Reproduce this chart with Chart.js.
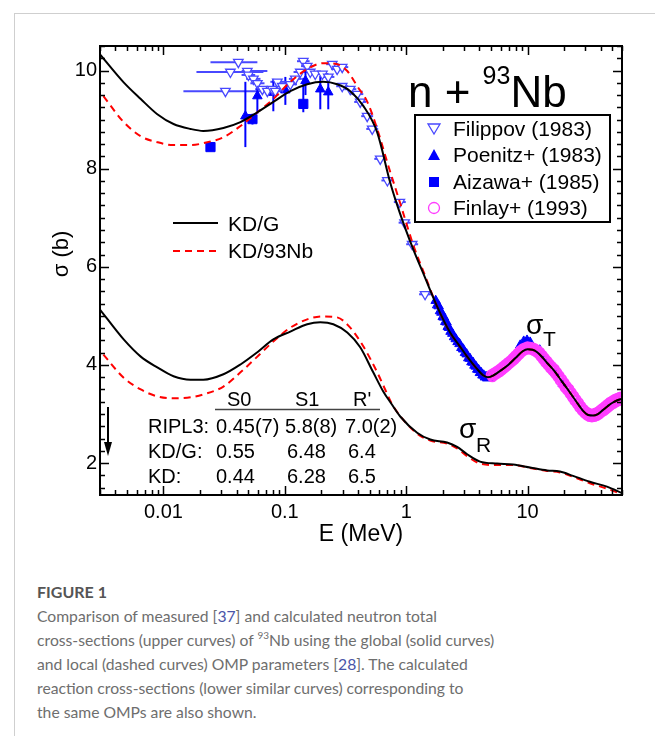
<!DOCTYPE html>
<html>
<head>
<meta charset="utf-8">
<script src="https://cdn.jsdelivr.net/npm/chart.js@4.4.1/dist/chart.umd.min.js"></script>
<style>
html,body{margin:0;padding:0;background:#fff;}
body{width:655px;height:736px;position:relative;overflow:hidden;}
#frame{position:absolute;left:14px;top:13px;width:700px;height:800px;border-left:1px solid #cfcfcf;border-top:1px solid #cfcfcf;}
#wrap{position:absolute;left:0;top:0;width:655px;height:560px;}
#cap{position:absolute;left:37px;top:580px;font-family:"Lato","Open Sans",sans-serif;font-size:15.7px;line-height:24px;color:#6e6e6e;white-space:nowrap;}
#cap .fig{font-weight:700;color:#555;font-size:16px;}
#cap .ref{color:#4a55a8;}
#cap sup{font-size:10px;line-height:0;position:relative;top:-1px;}
</style>
</head>
<body>
<div id="frame"></div>
<div id="wrap"><canvas id="c" width="655" height="560"></canvas></div>
<div id="cap">
<div class="fig">FIGURE 1</div>
<div id="l1">Comparison of measured [<span class="ref">37</span>] and calculated neutron total</div>
<div id="l2">cross-sections (upper curves) of <sup>93</sup>Nb using the global (solid curves)</div>
<div id="l3">and local (dashed curves) OMP parameters [<span class="ref">28</span>]. The calculated</div>
<div id="l4">reaction cross-sections (lower similar curves) corresponding to</div>
<div id="l5">the same OMPs are also shown.</div>
</div>
<script>
// ---------- tick labels ----------
const xTickValues = [0.01, 0.1, 1, 10];
const yTickValues = [2, 4, 6, 8, 10];

// ---------- calculated total cross-section, KD/G (solid) ----------
const E_totG = [0.003, 0.0047, 0.0065, 0.0089, 0.0121, 0.0167, 0.0213, 0.0312, 0.0431, 0.0594, 0.0804, 0.111, 0.153, 0.207, 0.270, 0.346, 0.443, 0.577, 0.738, 0.886, 1.142, 1.43, 1.80, 2.30, 2.75, 3.18, 3.80, 4.30, 4.70, 5.25, 6.03, 6.92, 7.94, 9.12, 10.0, 11.0, 12.0, 13.2, 14.5, 16.6, 19.1, 21.9, 25.1, 28.8, 31.6, 34.7, 38.0, 41.7, 45.7, 50.1, 55.0, 60.0];
const sigT_G = [10.33, 9.76, 9.42, 9.11, 8.91, 8.81, 8.77, 8.83, 8.95, 9.15, 9.36, 9.58, 9.72, 9.77, 9.72, 9.58, 9.28, 8.74, 7.72, 7.10, 6.36, 5.78, 5.19, 4.66, 4.39, 4.17, 3.93, 3.79, 3.75, 3.79, 3.89, 4.00, 4.14, 4.28, 4.32, 4.31, 4.26, 4.16, 4.04, 3.88, 3.67, 3.47, 3.26, 3.06, 2.98, 2.97, 3.00, 3.08, 3.16, 3.23, 3.28, 3.31];

// ---------- calculated total cross-section, KD/93Nb (dashed) ----------
const E_totL = [0.0032, 0.0047, 0.0065, 0.0089, 0.0121, 0.0167, 0.0230, 0.0312, 0.0431, 0.0594, 0.0804, 0.111, 0.153, 0.207, 0.270, 0.327, 0.395, 0.478, 0.577, 0.698, 0.886, 1.142, 1.43, 1.80, 2.30, 2.75, 3.18, 3.80, 4.30, 4.70, 5.25, 6.03, 6.92, 7.94, 9.12, 10.0, 11.0, 12.0, 13.2, 14.5, 16.6, 19.1, 21.9, 25.1, 28.8, 31.6, 34.7, 38.0, 41.7, 45.7, 50.1, 55.0, 60.0];
const sigT_L = [9.48, 8.95, 8.66, 8.54, 8.48, 8.48, 8.54, 8.64, 8.87, 9.15, 9.42, 9.77, 10.03, 10.15, 10.13, 9.99, 9.68, 9.36, 8.81, 8.13, 7.32, 6.45, 5.82, 5.19, 4.66, 4.39, 4.17, 3.93, 3.79, 3.75, 3.79, 3.89, 4.00, 4.14, 4.28, 4.32, 4.31, 4.26, 4.16, 4.04, 3.88, 3.67, 3.47, 3.26, 3.06, 2.98, 2.97, 3.00, 3.08, 3.16, 3.23, 3.28, 3.31];

// ---------- calculated reaction cross-section, KD/G (solid) ----------
const E_reaG = [0.003, 0.0047, 0.0065, 0.0089, 0.0121, 0.0167, 0.0213, 0.0312, 0.0431, 0.0594, 0.0804, 0.111, 0.153, 0.196, 0.251, 0.327, 0.418, 0.535, 0.647, 0.75, 0.893, 1.23, 1.58, 2.17, 2.63, 3.18, 4.06, 5.61, 7.60, 10.5, 14.5, 18.5, 23.7, 32.6, 45.1, 60.0];
const sigR_G = [5.13, 4.52, 4.17, 3.95, 3.77, 3.70, 3.70, 3.81, 4.01, 4.26, 4.52, 4.68, 4.83, 4.87, 4.83, 4.66, 4.36, 3.85, 3.46, 3.22, 2.95, 2.62, 2.48, 2.42, 2.33, 2.18, 2.03, 1.99, 1.97, 1.91, 1.85, 1.83, 1.74, 1.62, 1.52, 1.39];

// ---------- calculated reaction cross-section, KD/93Nb (dashed) ----------
const E_reaL = [0.0032, 0.0047, 0.0065, 0.0089, 0.0121, 0.0167, 0.0213, 0.0312, 0.0431, 0.0594, 0.0804, 0.111, 0.153, 0.207, 0.270, 0.346, 0.443, 0.577, 0.671, 0.75, 0.893, 1.23, 1.58, 2.17, 2.63, 3.18, 4.06, 5.61, 7.60, 10.5, 14.5, 18.5, 23.7, 32.6, 45.1, 60.0];
const sigR_L = [4.21, 3.74, 3.50, 3.36, 3.32, 3.34, 3.40, 3.56, 3.85, 4.17, 4.48, 4.76, 4.93, 4.99, 4.97, 4.76, 4.38, 3.85, 3.50, 3.24, 2.96, 2.60, 2.46, 2.40, 2.30, 2.14, 1.99, 1.96, 1.96, 1.90, 1.84, 1.81, 1.72, 1.59, 1.48, 1.37];

// ---------- Filippov (1983) ----------
const E_filippov = [0.0414, 0.0356, 0.0324, 0.0491, 0.0501, 0.0551, 0.0594, 0.0653, 0.0718, 0.0789, 0.0868, 0.0835, 0.0953, 0.111, 0.122, 0.134, 0.142, 0.153, 0.162, 0.178, 0.204, 0.228, 0.246, 0.270, 0.297, 0.297, 0.346, 0.395, 0.418, 0.477, 0.525, 0.611, 0.700, 0.886, 0.97, 1.12, 1.43];
const sig_filippov = [10.17, 9.97, 9.58, 9.99, 9.91, 9.83, 9.74, 9.62, 9.58, 9.62, 9.77, 9.58, 9.68, 9.72, 9.83, 9.97, 10.19, 10.09, 9.97, 9.93, 9.93, 9.87, 10.13, 10.03, 10.07, 9.68, 9.62, 9.52, 9.36, 9.07, 8.81, 8.20, 7.76, 7.32, 6.90, 6.46, 5.44];
const Elo_filippov = [0.0244, 0.0187, 0.0146, 0.0441, 0.0440, 0.0480, 0.0520, 0.0570, 0.0630, 0.0690, 0.0760, 0.0730, 0.0840, 0.098, 0.108, 0.118, 0.126, 0.136, 0.144, 0.158, 0.182, 0.203, 0.219, 0.241, 0.265, 0.265, 0.309, 0.353, 0.373, 0.426, 0.469, 0.546, 0.625, 0.791, 0.866, 1.00, 1.277];
const Ehi_filippov = [0.0594, 0.0666, 0.0653, 0.0718, 0.0570, 0.0630, 0.0680, 0.0750, 0.0820, 0.0900, 0.0990, 0.0950, 0.1080, 0.126, 0.138, 0.152, 0.160, 0.172, 0.182, 0.200, 0.229, 0.256, 0.276, 0.303, 0.333, 0.333, 0.388, 0.443, 0.468, 0.534, 0.588, 0.684, 0.784, 0.992, 1.086, 1.254, 1.60];

// ---------- Poenitz+ (1983) ----------
const E_poenitz = [0.0473, 0.0594, 0.0804, 0.101, 0.148, 0.196, 0.228, 1.75, 1.80, 1.85, 1.90, 1.95, 2.00, 2.05, 2.10, 2.15, 2.20, 2.25, 2.32, 2.40, 2.48, 2.56, 2.65, 2.75, 2.85, 2.95, 3.05, 3.15, 3.25, 3.35, 3.45, 3.55, 3.65, 3.75, 3.85, 3.95, 4.05, 4.15, 4.25, 4.35, 4.45, 4.55, 4.65, 4.75, 4.85, 4.95, 8.7, 9.3, 9.9, 10.5, 12.6, 14.0, 17.0, 19.5];
const sig_poenitz = [9.07, 9.48, 9.55, 9.60, 9.79, 9.62, 9.56, 5.31, 5.22, 5.20, 5.10, 5.07, 4.98, 4.97, 4.88, 4.87, 4.78, 4.76, 4.68, 4.64, 4.57, 4.53, 4.47, 4.43, 4.35, 4.32, 4.25, 4.22, 4.14, 4.13, 4.06, 4.05, 3.99, 3.97, 3.91, 3.90, 3.84, 3.84, 3.79, 3.79, 3.75, 3.76, 3.73, 3.75, 3.74, 3.77, 4.40, 4.48, 4.50, 4.46, 4.30, 4.14, 3.84, 3.62];
const lo_poenitz = [8.44, 9.12, 9.17, 9.30, 9.50, 9.21, 9.21];
const hi_poenitz = [9.77, 9.74, 9.83, 9.87, 10.03, 9.89, 9.83];

// ---------- Aizawa+ (1985) ----------
const E_aizawa = [0.0244, 0.0541, 0.142];
const sig_aizawa = [8.44, 9.01, 9.32];
const lo_aizawa = [8.38, 8.90, 9.15];
const hi_aizawa = [8.50, 9.12, 9.85];

// ---------- Finlay+ (1993) ----------
const E_finlay = [5.01, 5.13, 5.25, 5.37, 5.50, 5.62, 5.75, 5.89, 6.03, 6.17, 6.31, 6.46, 6.61, 6.76, 6.92, 7.08, 7.24, 7.41, 7.59, 7.76, 7.94, 8.13, 8.32, 8.51, 8.71, 8.91, 9.12, 9.33, 9.55, 9.77, 10.0, 10.2, 10.5, 10.7, 11.0, 11.2, 11.5, 11.7, 12.0, 12.3, 12.6, 12.9, 13.2, 13.5, 13.8, 14.1, 14.5, 14.8, 15.1, 15.5, 15.8, 16.2, 16.6, 17.0, 17.4, 17.8, 18.2, 18.6, 19.1, 19.5, 20.0, 20.4, 20.9, 21.4, 21.9, 22.4, 22.9, 23.4, 24.0, 24.5, 25.1, 25.7, 26.3, 26.9, 27.5, 28.2, 28.8, 29.5, 30.2, 30.9, 31.6, 32.4, 33.1, 33.9, 34.7, 35.5, 36.3, 37.2, 38.0, 38.9, 39.8, 40.7, 41.7, 42.7, 43.7, 44.7, 45.7, 46.8, 47.9, 49.0, 50.1, 51.3, 52.5, 53.7, 55.0, 56.2, 57.5, 58.9, 60.0];
const sig_finlay = [3.80, 3.76, 3.83, 3.80, 3.86, 3.83, 3.89, 3.86, 3.93, 3.90, 3.97, 3.94, 4.01, 3.98, 4.05, 4.03, 4.09, 4.07, 4.14, 4.11, 4.19, 4.16, 4.24, 4.21, 4.29, 4.26, 4.33, 4.30, 4.35, 4.32, 4.37, 4.33, 4.36, 4.32, 4.35, 4.30, 4.33, 4.27, 4.30, 4.23, 4.26, 4.17, 4.20, 4.11, 4.14, 4.05, 4.08, 3.99, 4.02, 3.93, 3.97, 3.88, 3.92, 3.82, 3.85, 3.75, 3.78, 3.68, 3.71, 3.61, 3.64, 3.54, 3.57, 3.48, 3.51, 3.41, 3.44, 3.34, 3.37, 3.27, 3.30, 3.20, 3.23, 3.13, 3.16, 3.07, 3.10, 3.02, 3.05, 2.98, 3.02, 2.95, 3.00, 2.94, 3.00, 2.95, 3.02, 2.97, 3.04, 3.00, 3.08, 3.04, 3.12, 3.07, 3.16, 3.11, 3.20, 3.15, 3.24, 3.19, 3.27, 3.22, 3.30, 3.25, 3.32, 3.27, 3.34, 3.29, 3.35];

// ---------- build ----------
const pts = (xs, ys) => xs.map((x, i) => ({x: x, y: ys[i]}));
const FONT = '"Liberation Sans", Arial, Helvetica, sans-serif';
const BLUE = '#0000ff', FBLUE = '#4848ff', MAG = '#ff3cff';

const decoPlugin = {
  id: 'deco',
  beforeDatasetsDraw(chart) {
    const ctx = chart.ctx, xs = chart.scales.x, ys = chart.scales.y, a = chart.chartArea;
    ctx.save();
    ctx.beginPath(); ctx.rect(a.left, a.top, a.right - a.left, a.bottom - a.top); ctx.clip();
    ctx.lineWidth = 2;
    ctx.strokeStyle = FBLUE;
    for (let i = 0; i < E_filippov.length; i++) {
      const y = ys.getPixelForValue(sig_filippov[i]);
      ctx.beginPath();
      ctx.moveTo(xs.getPixelForValue(Elo_filippov[i]), y);
      ctx.lineTo(xs.getPixelForValue(Ehi_filippov[i]), y);
      ctx.stroke();
    }
    ctx.strokeStyle = BLUE;
    const vbars = (E, lo, hi) => {
      for (let i = 0; i < lo.length; i++) {
        const x = xs.getPixelForValue(E[i]);
        ctx.beginPath();
        ctx.moveTo(x, ys.getPixelForValue(lo[i]));
        ctx.lineTo(x, ys.getPixelForValue(hi[i]));
        ctx.stroke();
      }
    };
    vbars(E_poenitz, lo_poenitz, hi_poenitz);
    vbars(E_aizawa, lo_aizawa, hi_aizawa);
    ctx.restore();
  },
  afterDraw(chart) {
    const ctx = chart.ctx, xs = chart.scales.x, ys = chart.scales.y, a = chart.chartArea;
    ctx.save();
    // frame
    ctx.strokeStyle = '#000'; ctx.lineWidth = 2;
    ctx.strokeRect(a.left, a.top, a.right - a.left, a.bottom - a.top);
    // x ticks (inward, bottom and top)
    ctx.lineWidth = 1.5;
    for (let d = 0.001; d < 100; d *= 10) {
      for (let m = 1; m <= 9; m++) {
        const v = m * d;
        if (v < xs.min * 0.999 || v > xs.max * 1.001) continue;
        const px = Math.round(xs.getPixelForValue(v)) + 0.5;
        const len = (m === 1) ? 9 : 5;
        ctx.beginPath();
        ctx.moveTo(px, a.bottom); ctx.lineTo(px, a.bottom - len);
        ctx.moveTo(px, a.top); ctx.lineTo(px, a.top + len);
        ctx.stroke();
      }
    }
    for (let k = 6; k <= 42; k++) {
      const v = k * 0.25;
      if (v < ys.min || v > ys.max) continue;
      const py = Math.round(ys.getPixelForValue(v)) + 0.5;
      const len = (k % 8 === 0) ? 9 : 5;
      ctx.beginPath();
      ctx.moveTo(a.left, py); ctx.lineTo(a.left + len, py);
      ctx.moveTo(a.right, py); ctx.lineTo(a.right - len, py);
      ctx.stroke();
    }
    // y axis title
    ctx.fillStyle = '#000';
    ctx.save();
    ctx.translate(68, 254); ctx.rotate(-Math.PI / 2);
    ctx.font = '22px ' + FONT; ctx.textAlign = 'center'; ctx.textBaseline = 'alphabetic';
    ctx.fillText('σ (b)', 0, 0);
    ctx.restore();
    ctx.textAlign = 'left'; ctx.textBaseline = 'alphabetic';
    // n + 93Nb
    ctx.font = '44px ' + FONT;
    let x0 = 408;
    ctx.fillText('n + ', x0, 107); x0 += ctx.measureText('n + ').width;
    ctx.font = '25px ' + FONT; ctx.fillText('93', x0, 84); x0 += ctx.measureText('93').width;
    ctx.font = '44px ' + FONT; ctx.fillText('Nb', x0, 107);
    // data legend box
    ctx.lineWidth = 2; ctx.strokeStyle = '#000';
    ctx.strokeRect(415, 115, 195, 107);
    const rowY = [129, 155, 182, 208];
    const names = ['Filippov (1983)', 'Poenitz+ (1983)', 'Aizawa+ (1985)', 'Finlay+ (1993)'];
    ctx.font = '21px ' + FONT;
    names.forEach((n, i) => ctx.fillText(n, 453, rowY[i] + 7));
    const mx = 434;
    // open down triangle
    ctx.lineWidth = 1.3; ctx.strokeStyle = FBLUE;
    ctx.beginPath(); ctx.moveTo(mx - 6, rowY[0] - 5); ctx.lineTo(mx + 6, rowY[0] - 5); ctx.lineTo(mx, rowY[0] + 5); ctx.closePath(); ctx.stroke();
    // filled up triangle
    ctx.fillStyle = BLUE;
    ctx.beginPath(); ctx.moveTo(mx - 6, rowY[1] + 5); ctx.lineTo(mx + 6, rowY[1] + 5); ctx.lineTo(mx, rowY[1] - 6); ctx.closePath(); ctx.fill();
    // filled square
    ctx.fillRect(mx - 5, rowY[2] - 5, 10, 10);
    // open circle
    ctx.strokeStyle = MAG; ctx.lineWidth = 1.3;
    ctx.beginPath(); ctx.arc(mx, rowY[3], 5.5, 0, Math.PI * 2); ctx.stroke();
    // line legend
    ctx.fillStyle = '#000';
    ctx.lineWidth = 2; ctx.strokeStyle = '#000';
    ctx.beginPath(); ctx.moveTo(173, 223); ctx.lineTo(218, 223); ctx.stroke();
    ctx.strokeStyle = '#ff0000'; ctx.setLineDash([7, 5]);
    ctx.beginPath(); ctx.moveTo(173, 251); ctx.lineTo(218, 251); ctx.stroke();
    ctx.setLineDash([]);
    ctx.font = '21px ' + FONT;
    ctx.fillText('KD/G', 228, 231);
    ctx.fillText('KD/93Nb', 228, 258);
    // parameter table
    ctx.font = '20px ' + FONT;
    ctx.fillText('S0', 227, 406); ctx.fillText('S1', 295, 406); ctx.fillText("R'", 353, 406);
    ctx.lineWidth = 1.5; ctx.strokeStyle = '#444';
    ctx.beginPath(); ctx.moveTo(215, 409.5); ctx.lineTo(380, 409.5); ctx.stroke();
    ctx.fillText('RIPL3:', 148, 433); ctx.fillText('0.45(7)', 216, 433); ctx.fillText('5.8(8)', 285, 433); ctx.fillText('7.0(2)', 345, 433);
    ctx.fillText('KD/G:', 148, 458); ctx.fillText('0.55', 216, 458); ctx.fillText('6.48', 287, 458); ctx.fillText('6.4', 348, 458);
    ctx.fillText('KD:', 148, 483); ctx.fillText('0.44', 216, 483); ctx.fillText('6.28', 287, 483); ctx.fillText('6.5', 348, 483);
    // arrow
    ctx.strokeStyle = '#000'; ctx.lineWidth = 2;
    ctx.beginPath(); ctx.moveTo(108, 407); ctx.lineTo(108, 446); ctx.stroke();
    ctx.beginPath(); ctx.moveTo(104, 442); ctx.lineTo(112, 442); ctx.lineTo(108, 456); ctx.closePath(); ctx.fill();
    // sigma labels
    ctx.font = '28px ' + FONT; ctx.fillText('σ', 526, 334);
    ctx.font = '21px ' + FONT; ctx.fillText('T', 543, 346);
    ctx.font = '28px ' + FONT; ctx.fillText('σ', 459, 438);
    ctx.font = '21px ' + FONT; ctx.fillText('R', 476, 452);
    ctx.restore();
  }
};

const lineDS = (label, E, s, color, dash, order) => ({
  label: label, data: pts(E, s), showLine: true, borderColor: color, borderWidth: 2,
  borderDash: dash, pointRadius: 0, cubicInterpolationMode: 'monotone', fill: false, order: order
});

new Chart(document.getElementById('c'), {
  type: 'scatter',
  data: {
    datasets: [
      lineDS('KD/G σT', E_totG, sigT_G, '#000000', [], 0),
      lineDS('KD/93Nb σT', E_totL, sigT_L, '#ff0000', [7, 5], 1),
      lineDS('KD/G σR', E_reaG, sigR_G, '#000000', [], 0),
      lineDS('KD/93Nb σR', E_reaL, sigR_L, '#ff0000', [7, 5], 1),
      {label: 'Finlay+ (1993)', data: pts(E_finlay, sig_finlay), pointStyle: 'circle', pointRadius: 4.5,
       borderColor: MAG, backgroundColor: 'rgba(255,255,255,0)', borderWidth: 2, order: 2},
      {label: 'Filippov (1983)', data: pts(E_filippov, sig_filippov), pointStyle: 'triangle', rotation: 180, pointRadius: 5.5,
       borderColor: FBLUE, backgroundColor: '#ffffff', borderWidth: 1.3, order: 3},
      {label: 'Poenitz+ (1983)', data: pts(E_poenitz, sig_poenitz), pointStyle: 'triangle', pointRadius: 5.5,
       borderColor: BLUE, backgroundColor: BLUE, borderWidth: 1, order: 4},
      {label: 'Aizawa+ (1985)', data: pts(E_aizawa, sig_aizawa), pointStyle: 'rect', pointRadius: 6.5,
       borderColor: BLUE, backgroundColor: BLUE, borderWidth: 1, order: 5}
    ]
  },
  options: {
    responsive: false, animation: false, devicePixelRatio: 1, events: [],
    layout: {padding: {left: 0, right: 33, top: 46, bottom: 0}},
    plugins: {legend: {display: false}, tooltip: {enabled: false}},
    scales: {
      x: {
        type: 'logarithmic', min: 0.003, max: 60,
        grid: {display: false, drawTicks: false}, border: {display: false},
        afterBuildTicks: s => { s.ticks = xTickValues.map(v => ({value: v})); },
        afterFit: s => { s.height = 65; },
        ticks: {color: '#000', font: {family: FONT, size: 20}, padding: 5, maxRotation: 0, autoSkip: false,
                callback: v => String(v)},
        title: {display: true, text: 'E (MeV)', color: '#000', font: {family: FONT, size: 23}, padding: {top: 0, bottom: 12}}
      },
      y: {
        type: 'linear', min: 1.35, max: 10.5,
        grid: {display: false, drawTicks: false}, border: {display: false},
        afterBuildTicks: s => { s.ticks = yTickValues.map(v => ({value: v})); },
        afterFit: s => { s.width = 100; },
        ticks: {color: '#000', font: {family: FONT, size: 20}, padding: 3, callback: v => String(v)}
      }
    }
  },
  plugins: [decoPlugin]
});
</script>
</body>
</html>
